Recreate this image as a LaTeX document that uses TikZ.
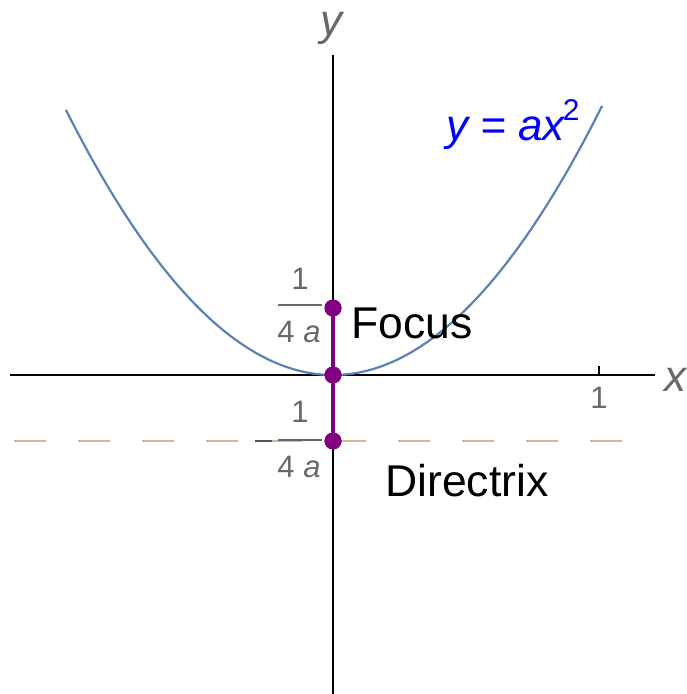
\documentclass[tikz,border=0pt]{standalone}
\usepackage{fontspec}
\setmainfont{Liberation Sans}
\definecolor{curveblue}{RGB}{94,129,181}
\definecolor{dirtan}{RGB}{212,182,146}
\definecolor{lblgray}{RGB}{105,105,105}
\definecolor{ptpurple}{RGB}{128,0,128}
\begin{document}
\begin{tikzpicture}[x=1pt,y=-1pt,
  axisline/.style={black,line width=1.3pt},
  tickline/.style={black,line width=1.1pt},
  axlabel/.style={text=lblgray,inner sep=0pt,font=\fontsize{44}{44}\selectfont\itshape},
  numlbl/.style={text=lblgray,inner sep=0pt,font=\fontsize{31}{31}\selectfont},
  bigtext/.style={text=black,inner sep=0pt,font=\fontsize{44.5}{44.5}\selectfont},
  fracbar/.style={lblgray,line width=1.5pt},
  curve/.style={curveblue,line width=2.2pt},
  dirline/.style={dirtan,line width=1.6pt,dash pattern=on 32pt off 32pt},
  seg/.style={ptpurple,line width=4pt},
  dot/.style={circle,fill=ptpurple,inner sep=0pt,minimum size=17pt}]
\useasboundingbox (0,0) rectangle (687,694);
% directrix
\coordinate (dl) at (14,441);
\coordinate (dr) at (622,441);
\draw[dirline] (dl) -- (dr);
% axes
\coordinate (xl) at (10,375);
\coordinate (xr) at (655,375);
\coordinate (yt) at (333,55);
\coordinate (yb) at (333,694);
\draw[axisline] (xl) -- (xr);
\draw[axisline] (yt) -- (yb);
% ticks
\coordinate (t1a) at (599,375); \coordinate (t1b) at (599,366);
\draw[tickline] (t1a) -- (t1b);
\coordinate (tfa) at (333,308); \coordinate (tfb) at (340,308);
\draw[tickline] (tfa) -- (tfb);
\coordinate (tda) at (333,441); \coordinate (tdb) at (340,441);
\draw[tickline] (tda) -- (tdb);
% parabola
\draw[curve] plot[domain=-1.004:1.013,samples=120,smooth] ({333+266*\x},{375-263*\x*\x});
% axis labels
\node[axlabel] (ylab) at (331,28) {y};
\node[axlabel,anchor=west] (xlab) at (664,380) {x};
\node[numlbl] (one) at (599,398) {1};
% fractions
\node[numlbl] (fn) at (300,279) {1};
\coordinate (fb1) at (278,305); \coordinate (fb2) at (322,305);
\draw[fracbar] (fb1) -- (fb2);
\node[numlbl] (fd) at (299,332) {4 \textit{a}};
\node[numlbl] (dn) at (300,412) {1};
\coordinate (db1) at (278,440); \coordinate (db2) at (322,440);
\draw[fracbar] (db1) -- (db2);
\node[numlbl] (dd) at (299,467) {4 \textit{a}};
\coordinate (m1) at (255,441); \coordinate (m2) at (272,441);
\draw[lblgray!80!black,line width=2pt] (m1) -- (m2);
% focus segment
\node[dot] (F) at (333,308) {};
\node[dot] (V) at (333,375) {};
\node[dot] (D) at (333,441) {};
\draw[seg] (F.center) -- (V.center) -- (D.center);
\node[dot] at (F) {};
\node[dot] at (V) {};
\node[dot] at (D) {};
% text labels
\node[bigtext,anchor=west] (focus) at (351,323) {Focus};
\node[bigtext,anchor=west] (directrix) at (385,481) {Directrix};
\node[text=blue,inner sep=0pt,anchor=base west,font=\fontsize{44}{44}\selectfont\itshape] (eq) at (446,140) {y = ax\hspace{-2pt}\raisebox{20pt}{\fontsize{30}{30}\selectfont\upshape 2}};
\end{tikzpicture}
\end{document}
